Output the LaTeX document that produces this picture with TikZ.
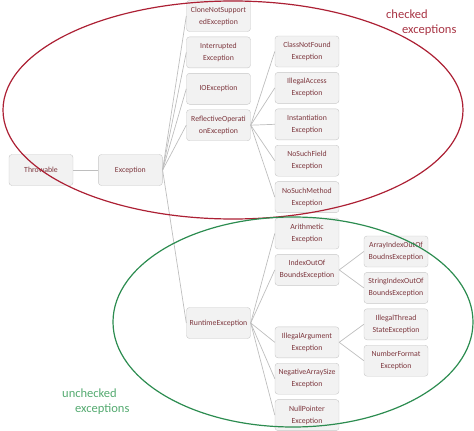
\documentclass[tikz,border=0pt]{standalone}
\usepackage{fontspec}
\setmainfont{Carlito}
\usetikzlibrary{positioning}
\definecolor{boxfill}{RGB}{242,242,242}
\definecolor{boxline}{RGB}{200,200,200}
\definecolor{boxtext}{RGB}{125,55,62}
\definecolor{linkgray}{RGB}{190,190,190}
\definecolor{checkred}{RGB}{172,32,52}
\definecolor{checktext}{RGB}{168,52,68}
\definecolor{uncheckgreen}{RGB}{44,140,80}
\definecolor{unchecktext}{RGB}{84,170,112}
\tikzset{
  exbox/.style={draw=boxline, fill=boxfill, rounded corners=3pt, align=center,
    minimum width=64pt, minimum height=31pt, inner sep=1pt, text=boxtext,
    font=\fontsize{7.8}{12}\selectfont},
  link/.style={draw=linkgray, line width=0.7pt},
  group/.style={line width=1.2pt},
  grouplabel/.style={align=left, inner sep=0pt, font=\fontsize{12.5}{15}\selectfont}
}
\begin{document}
\begin{tikzpicture}[x=1pt, y=-1pt, node distance=5pt]
    \useasboundingbox (0,0) rectangle (474,431);
    % root and base class
    \node[exbox] (thr) at (41,170) {Throwable};
    \node[exbox, right=25pt of thr] (exc) {Exception};
    % checked subclasses
    \node[exbox] (clone) at (218.5,16) {CloneNotSupport\\edException};
    \node[exbox, below=of clone] (intr) {Interrupted\\Exception};
    \node[exbox, below=of intr] (ioe) {IOException};
    \node[exbox, below=of ioe] (refl) {ReflectiveOperati\\onException};
    \node[exbox] (cnf) at (307,51.5) {ClassNotFound\\Exception};
    \node[exbox, below=of cnf] (iae) {IllegalAccess\\Exception};
    \node[exbox, below=of iae] (inst) {Instantiation\\Exception};
    \node[exbox, below=of inst] (nsf) {NoSuchField\\Exception};
    \node[exbox, below=of nsf] (nsm) {NoSuchMethod\\Exception};
    % unchecked subclasses
    \node[exbox] (rte) at (218.5,323) {RuntimeException};
    \node[exbox, below=of nsm] (arith) {Arithmetic\\Exception};
    \node[exbox, below=of arith] (ioob) {IndexOutOf\\BoundsException};
    \node[exbox, below=41pt of ioob] (illarg) {IllegalArgument\\Exception};
    \node[exbox, below=of illarg] (nas) {NegativeArraySize\\Exception};
    \node[exbox, below=of nas] (npe) {NullPointer\\Exception};
    \node[exbox] (aioob) at (396,251.5) {ArrayIndexOutOf\\BoudnsException};
    \node[exbox, below=of aioob] (sioob) {StringIndexOutOf\\BoundsException};
    \node[exbox, below=of sioob] (its) {IllegalThread\\StateException};
    \node[exbox, below=of its] (nfe) {NumberFormat\\Exception};
    % links
    \draw[link] (thr) -- (exc);
    \draw[link] (exc.east) -- (clone.west);
    \draw[link] (exc.east) -- (intr.west);
    \draw[link] (exc.east) -- (ioe.west);
    \draw[link] (exc.east) -- (refl.west);
    \draw[link] (exc.east) -- (rte.west);
    \draw[link] (refl.east) -- (cnf.west);
    \draw[link] (refl.east) -- (iae.west);
    \draw[link] (refl.east) -- (inst.west);
    \draw[link] (refl.east) -- (nsf.west);
    \draw[link] (refl.east) -- (nsm.west);
    \draw[link] (rte.east) -- (arith.west);
    \draw[link] (rte.east) -- (ioob.west);
    \draw[link] (rte.east) -- (illarg.west);
    \draw[link] (rte.east) -- (nas.west);
    \draw[link] (rte.east) -- (npe.west);
    \draw[link] (ioob.east) -- (aioob.west);
    \draw[link] (ioob.east) -- (sioob.west);
    \draw[link] (illarg.east) -- (its.west);
    \draw[link] (illarg.east) -- (nfe.west);
    % groups
    \draw[group, checkred] (233,110) ellipse [x radius=230, y radius=109];
    \draw[group, uncheckgreen] (293,322) ellipse [x radius=180, y radius=105];
    \node[grouplabel, text=checktext, anchor=base west] (chk) at (386,33) {checked\\\hspace*{16pt}exceptions};
    \node[grouplabel, text=unchecktext, anchor=base west] (unchk) at (62,412) {unchecked\\\hspace*{13pt}exceptions};
\end{tikzpicture}
\end{document}
